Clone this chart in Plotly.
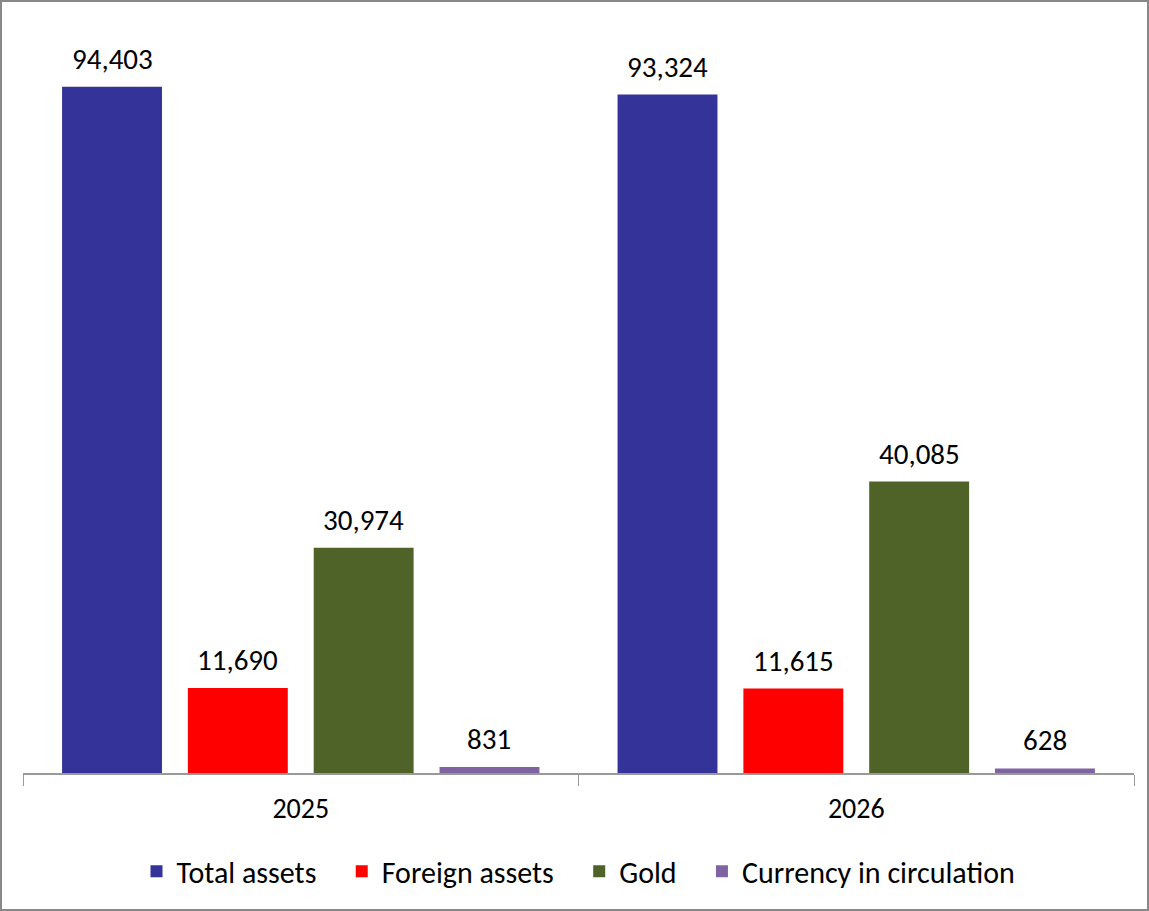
import plotly.graph_objects as go

# Datos del gráfico
years = ["2025", "2026"]
series_names = ["Total assets", "Foreign assets", "Gold", "Currency in circulation"]
total_assets = [94403, 93324]
foreign_assets = [11690, 11615]
gold = [30974, 40085]
currency = [831, 628]
colors = ["#333399", "#FF0000", "#4F6228", "#8064A2"]

W, H = 1149, 911
L, R, T, B = 23, 15, 46, 138
BARGAP = 0.094
FONT = "Calibri, Carlito, Lato, sans-serif"
PAD = "\u00a0" * 3  # espacio extra entre elementos de la leyenda

fig = go.Figure()
all_series = [total_assets, foreign_assets, gold, currency]
slot = (1 - BARGAP) / len(all_series)
annotations = []
for i, (name, vals, col) in enumerate(zip(series_names, all_series, colors)):
    label = name + (PAD if i < len(all_series) - 1 else "")
    fig.add_trace(go.Bar(x=years, y=vals, name=label, marker_color=col, marker_line_width=0))
    # Etiquetas de datos sobre cada barra
    off = (i - (len(all_series) - 1) / 2) * slot
    for j, v in enumerate(vals):
        annotations.append(dict(x=j + off, y=v, xref="x", yref="y", text=f"{v:,}",
                                showarrow=False, yanchor="bottom", yshift=8,
                                font=dict(size=29, color="black")))

pw, ph = W - L - R, H - T - B
fig.update_layout(
    width=W, height=H,
    margin=dict(l=L, r=R, t=T, b=B),
    paper_bgcolor="white", plot_bgcolor="white",
    font=dict(family=FONT, size=28, color="black"),
    barmode="group", bargap=BARGAP, bargroupgap=0.206,
    showlegend=True,
    legend=dict(orientation="h", x=0.5, xanchor="center", y=-0.135, yanchor="middle",
                font=dict(size=30), itemwidth=30),
    xaxis=dict(showline=True, linecolor="#999999", linewidth=1.5,
               ticks="outside", tickson="boundaries", ticklen=11, tickcolor="#999999",
               tickfont=dict(size=28), ticklabelstandoff=10, showgrid=False),
    yaxis=dict(range=[0, 100000], visible=False, showgrid=False),
    annotations=annotations,
    # Borde del gráfico
    shapes=[dict(type="rect", xref="paper", yref="paper",
                 x0=-(L - 1) / pw, x1=1 + (R - 1) / pw,
                 y0=-(B - 1) / ph, y1=1 + (T - 1) / ph,
                 line=dict(color="#888888", width=2))],
)

fig.write_html("out.html", config={"displayModeBar": False},
               post_script="document.body.style.margin='0';")
